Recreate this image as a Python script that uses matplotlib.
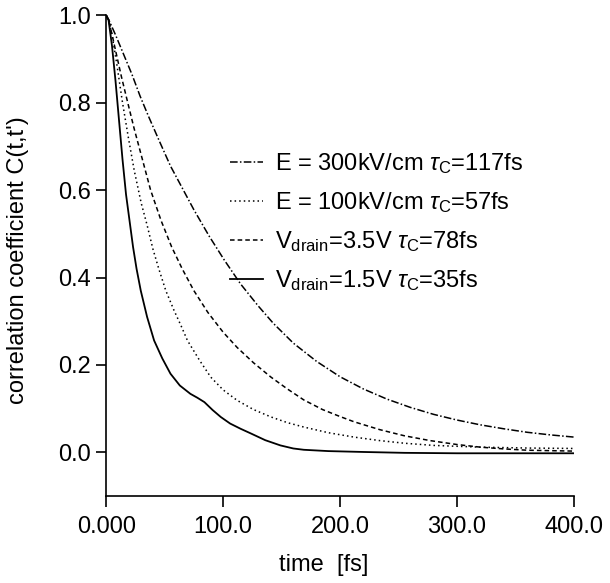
import matplotlib
matplotlib.use('Agg')
import matplotlib.pyplot as plt

plt.rcParams['font.family'] = ['Liberation Sans', 'DejaVu Sans']
plt.rcParams['mathtext.fontset'] = 'custom'
plt.rcParams['mathtext.rm'] = 'Liberation Sans'
plt.rcParams['mathtext.it'] = 'Liberation Sans:italic'

# E = 300kV/cm, tau_c = 117fs (dash-dot)
t_e300 = [0, 3, 8, 15, 22, 29, 36, 45, 55, 65, 75, 88, 101, 115, 130, 143, 160, 180,
          200, 220, 240, 260, 280, 300, 320, 340, 360, 380, 400]
c_e300 = [1.0, 0.985, 0.955, 0.91, 0.865, 0.815, 0.77, 0.715, 0.655, 0.605, 0.555, 0.495, 0.44, 0.385, 0.335, 0.295, 0.25, 0.208,
          0.173, 0.145, 0.122, 0.103, 0.087, 0.074, 0.063, 0.054, 0.046, 0.040, 0.035]

# E = 100kV/cm, tau_c = 57fs (dotted)
t_e100 = [0, 2, 5, 9, 14, 19, 24, 30, 35, 40, 45, 51, 58, 64, 69.5, 80, 89.5, 100, 112, 126,
          141, 155, 169, 190, 212, 234, 255, 280, 320, 360, 400]
c_e100 = [1.0, 0.99, 0.955, 0.89, 0.80, 0.72, 0.645, 0.57, 0.52, 0.465, 0.42, 0.37, 0.325, 0.29, 0.256, 0.21, 0.172, 0.143, 0.119, 0.098,
          0.081, 0.068, 0.058, 0.045, 0.035, 0.027, 0.021, 0.016, 0.012, 0.01, 0.009]

# V_drain = 3.5V, tau_c = 78fs (dashed)
t_v35 = [0, 3, 8, 13, 18, 24, 30, 38, 47, 56, 65, 75, 87, 100, 112, 126, 141, 155, 169, 185,
         200, 212, 234, 255, 277, 300, 320, 340, 360, 380, 400]
c_v35 = [1.0, 0.98, 0.92, 0.86, 0.805, 0.74, 0.68, 0.60, 0.53, 0.47, 0.42, 0.37, 0.32, 0.275, 0.24, 0.205, 0.172, 0.145, 0.12, 0.098,
         0.082, 0.07, 0.052, 0.038, 0.027, 0.018, 0.012, 0.008, 0.005, 0.004, 0.003]

# V_drain = 1.5V, tau_c = 35fs (solid)
t_v15 = [0, 2, 5, 8, 11, 14, 17, 20, 23, 26, 29.6, 35, 41, 48, 55, 63, 72, 78, 84, 91, 98, 106, 115, 124,
         136, 149, 160, 169, 190, 220, 255, 300, 350, 400]
c_v15 = [1.0, 0.99, 0.93, 0.85, 0.76, 0.67, 0.59, 0.53, 0.47, 0.42, 0.37, 0.31, 0.256, 0.215, 0.18, 0.153, 0.134, 0.125, 0.115, 0.097, 0.081, 0.066, 0.054, 0.043,
         0.028, 0.016, 0.009, 0.006, 0.003, 0.001, -0.001, -0.002, -0.002, -0.002]

labels = [r'E = 300kV/cm $\tau_{\rm C}$=117fs',
          r'E = 100kV/cm $\tau_{\rm C}$=57fs',
          r'V$_{\rm drain}$=3.5V $\tau_{\rm C}$=78fs',
          r'V$_{\rm drain}$=1.5V $\tau_{\rm C}$=35fs']

x_ticks = [0, 100, 200, 300, 400]
x_ticklabels = ['0.000', '100.0', '200.0', '300.0', '400.0']
y_ticks = [0.0, 0.2, 0.4, 0.6, 0.8, 1.0]

fig = plt.figure(figsize=(6.1, 5.83), dpi=100)
ax = fig.add_axes([0.174, 0.149, 0.767, 0.825])

ax.plot(t_e300, c_e300, color='black', lw=1.1, linestyle=(0, (5, 1.5, 1, 1.5)), label=labels[0])
ax.plot(t_e100, c_e100, color='black', lw=1.1, linestyle=(0, (1, 2)), label=labels[1])
ax.plot(t_v35, c_v35, color='black', lw=1.1, linestyle=(0, (3, 2)), label=labels[2])
ax.plot(t_v15, c_v15, color='black', lw=1.3, linestyle='-', label=labels[3])

ax.set_xlim(0, 400)
ax.set_ylim(-0.1, 1.0)
ax.set_xticks(x_ticks)
ax.set_xticklabels(x_ticklabels)
ax.set_yticks(y_ticks)
ax.set_yticklabels(['%.1f' % v for v in y_ticks])

ax.spines['top'].set_visible(False)
ax.spines['right'].set_visible(False)
ax.spines['left'].set_linewidth(1.2)
ax.spines['bottom'].set_linewidth(1.2)
ax.tick_params(axis='y', direction='out', length=7, width=1.2, labelsize=17, pad=4)
ax.tick_params(axis='x', direction='out', length=8, width=1.2, labelsize=17, pad=6)

ax.set_xlabel('time  [fs]', fontsize=17)
ax.xaxis.set_label_coords(0.464, -0.12)
ax.set_ylabel("correlation coefficient C(t,t')", fontsize=17)
ax.yaxis.set_label_coords(-0.165, 0.49)

ax.legend(loc='upper left', bbox_to_anchor=(230 / 610, 1 - 151 / 583),
          bbox_transform=fig.transFigure, frameon=False, fontsize=17,
          handlelength=1.4, handletextpad=0.5, labelspacing=0.6,
          borderpad=0, borderaxespad=0)

fig.savefig('out.png', dpi=100)
